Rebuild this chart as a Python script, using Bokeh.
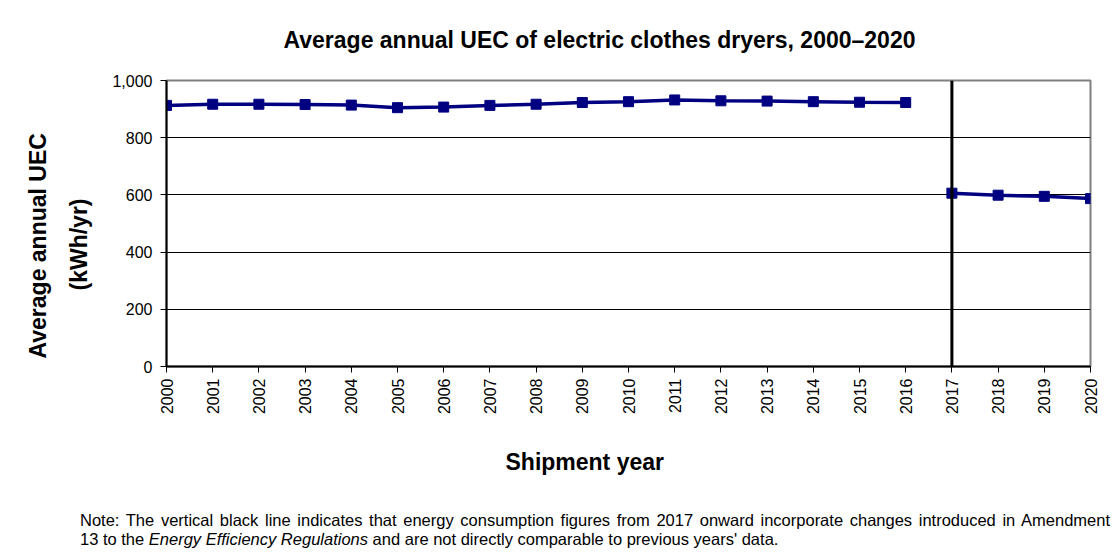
import math
from bokeh.plotting import figure
from bokeh.layouts import column
from bokeh.models import (ColumnDataSource, Range1d, FixedTicker, NumeralTickFormatter,
                          Span, Title, Div)
from bokeh.embed import file_html
from bokeh.resources import INLINE

# Average annual unit energy consumption (kWh/yr) by shipment year
years_before = [2000, 2001, 2002, 2003, 2004, 2005, 2006, 2007, 2008,
                2009, 2010, 2011, 2012, 2013, 2014, 2015, 2016]
uec_before = [913, 917, 917, 916, 914, 905, 907, 913, 917,
              923, 926, 932, 929, 928, 926, 924, 923]
years_after = [2017, 2018, 2019, 2020]
uec_after = [606, 599, 595, 587]

all_years = list(range(2000, 2021))
y_ticks = [0, 200, 400, 600, 800, 1000]
break_year = 2017

title_text = "Average annual UEC of electric clothes dryers, 2000\u20132020"
x_title = "Shipment year"
y_title_1 = "Average annual UEC"
y_title_2 = "(kWh/yr)"
note_1 = ("Note: The vertical black line indicates that energy consumption figures from 2017 onward "
          "incorporate changes introduced in Amendment")
note_2a = "13 to the "
note_2b = "Energy Efficiency Regulations"
note_2c = " and are not directly comparable to previous  years' data."

FONT = "Liberation Sans"
NAVY = "#000080"

p = figure(width=1115, height=505, output_backend="svg", toolbar_location=None,
           x_range=Range1d(2000, 2020), y_range=Range1d(0, 1000),
           min_border_left=166, min_border_right=25, min_border_top=80,
           min_border_bottom=139)
p.background_fill_color = "white"
p.border_fill_color = "white"
p.outline_line_color = "#808080"
p.outline_line_width = 2

# title
p.title.text = title_text
p.title.text_font = FONT
p.title.text_font_size = "23px"
p.title.text_font_style = "bold"
p.title.text_color = "black"
p.title.align = "left"
p.title.offset = 117
p.title.vertical_align = "top"
p.title.standoff = 52

# axes
p.xaxis.ticker = FixedTicker(ticks=all_years)
p.yaxis.ticker = FixedTicker(ticks=y_ticks)
p.yaxis.formatter = NumeralTickFormatter(format="0,0")
p.xaxis.major_label_orientation = math.pi / 2
for ax in (p.xaxis, p.yaxis):
    ax.major_label_text_font = FONT
    ax.major_label_text_font_size = "16px"
    ax.major_label_text_color = "black"
    ax.axis_line_color = "black"
    ax.axis_line_width = 2
    ax.major_tick_line_color = "black"
    ax.major_tick_line_width = 1
    ax.major_tick_out = 6
    ax.major_tick_in = 0
    ax.minor_tick_line_color = None
p.xaxis.major_label_standoff = 6
p.yaxis.major_label_standoff = 8

p.xgrid.grid_line_color = None
p.ygrid.grid_line_color = "black"
p.ygrid.grid_line_width = 1


# axis titles as side panels so they can be offset along the frame
def side_title(text, side, offset, standoff, valign):
    p.add_layout(Title(text=text, align="left", offset=offset, standoff=standoff,
                       vertical_align=valign, text_font=FONT, text_font_size="23px",
                       text_font_style="bold", text_color="black"), side)


side_title(y_title_2, "left", 76, 31, "top")
side_title(y_title_1, "left", 8, 0, "bottom")
side_title(x_title, "below", 339, 58, "bottom")

# series
src_before = ColumnDataSource(dict(year=years_before, uec=uec_before))
src_after = ColumnDataSource(dict(year=years_after, uec=uec_after))
for src in (src_before, src_after):
    p.line("year", "uec", source=src, line_color=NAVY, line_width=3.5)
    p.scatter("year", "uec", source=src, marker="square", size=10,
              fill_color=NAVY, line_color=NAVY)

# break marker between comparable periods
p.add_layout(Span(location=break_year, dimension="height", line_color="black",
                  line_width=3))

# footnote
note_html = (
    '<div style="width: 1030px; text-align: justify; text-align-last: justify;">'
    + note_1 + '</div>'
    '<div style="width: 1030px;">' + note_2a + '<i>' + note_2b + '</i>' + note_2c + '</div>'
)
note = Div(text=note_html, width=1115, height=54, margin=(0, 0, 0, 0),
           styles={"font-family": FONT, "font-size": "16.5px", "line-height": "19px",
                   "color": "black", "padding-left": "80px", "padding-top": "6px",
                   "box-sizing": "border-box"})

layout = column(p, note, spacing=0)
open("out.html", "w").write(file_html(layout, INLINE))
